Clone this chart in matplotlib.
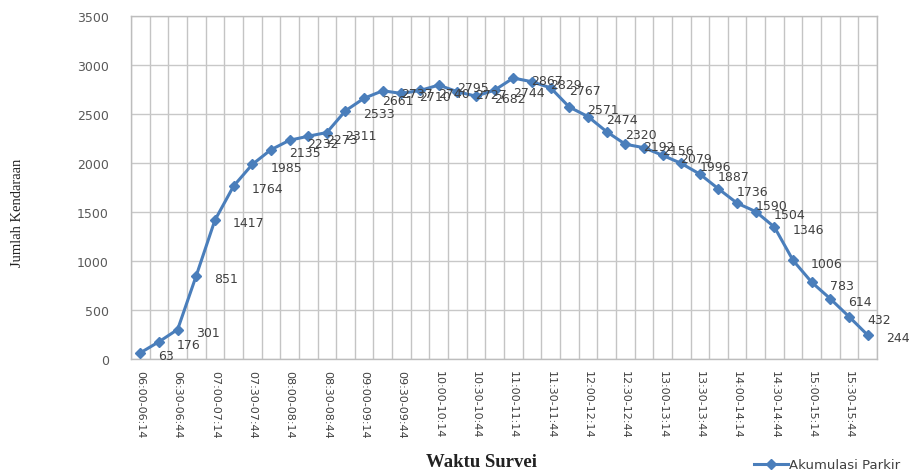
import matplotlib
matplotlib.use("Agg")
import matplotlib.pyplot as plt
import numpy as np

# ---- data ----
start_times = [f"{h:02d}:{m:02d}" for h in range(6, 16) for m in (0, 15, 30, 45)]
end_times = [f"{h:02d}:{m + 14:02d}" for h in range(6, 16) for m in (0, 15, 30, 45)]
categories = [f"{s}-{e}" for s, e in zip(start_times, end_times)]

values = [63, 176, 301, 851, 1417, 1764, 1985, 2135, 2232, 2273,
          2311, 2533, 2661, 2737, 2710, 2740, 2795, 2727, 2682, 2744,
          2867, 2829, 2767, 2571, 2474, 2320, 2192, 2156, 2079, 1996,
          1887, 1736, 1590, 1504, 1346, 1006, 783, 614, 432, 244]

series_name = "Akumulasi Parkir"
y_label = "Jumlah Kendaraan"
x_label = "Waktu Survei"
y_ticks = [0, 500, 1000, 1500, 2000, 2500, 3000, 3500]

# ---- figure ----
fig = plt.figure(figsize=(9.14, 4.77), dpi=100)
ax = fig.add_axes([131 / 914, 1 - 360 / 477, (877 - 131) / 914, (360 - 17) / 477])

x = np.arange(len(categories))
line_color = "#4a7ebb"
ax.plot(x, values, color=line_color, lw=2.2, marker="D", markersize=5.5,
        markeredgecolor=line_color, markerfacecolor=line_color, label=series_name,
        zorder=3, clip_on=False)

for xi, v in zip(x, values):
    ax.annotate(str(v), (xi, v), xytext=(13, -2), textcoords="offset points",
                ha="left", va="center", fontsize=9, color="#404040",
                annotation_clip=False, zorder=4)

ax.set_xlim(-0.5, len(categories) - 0.5)
ax.set_ylim(0, 3500)
ax.set_yticks(y_ticks)
ax.set_yticklabels([str(t) for t in y_ticks], fontsize=9, color="#595959")

ax.set_xticks(x[::2])
ax.set_xticklabels(categories[::2], rotation=270, fontsize=8, color="#404040")
ax.set_xticks(np.arange(-0.5, len(categories), 1), minor=True)

ax.tick_params(axis="both", which="both", length=0)
ax.tick_params(axis="y", pad=16)
ax.tick_params(axis="x", pad=8)

ax.grid(axis="y", color="#c8c8c8", lw=1.0)
ax.grid(axis="x", which="minor", color="#c4c4c4", lw=1.0)
ax.grid(axis="x", which="major", visible=False)
ax.set_axisbelow(True)
for s in ax.spines.values():
    s.set_color("#bdbdbd")
    s.set_linewidth(1.0)

fig.text(18 / 914, 1 - 213 / 477, y_label, rotation=90, ha="center", va="center",
         fontsize=10.5, family="Liberation Serif", color="#222222")
fig.text(481 / 914, 1 - 463 / 477, x_label, ha="center", va="center",
         fontsize=13.5, family="Liberation Serif", fontweight="bold", color="#222222")

leg = fig.legend(loc="center right", bbox_to_anchor=(0.985, 1 - 466 / 477),
                 frameon=False, fontsize=9.5, handlelength=2.6, handletextpad=0.1,
                 borderpad=0, borderaxespad=0)
for t in leg.get_texts():
    t.set_color("#404040")
for h in leg.legend_handles:
    h.set_markersize(5)

fig.savefig("out.png", dpi=100)
